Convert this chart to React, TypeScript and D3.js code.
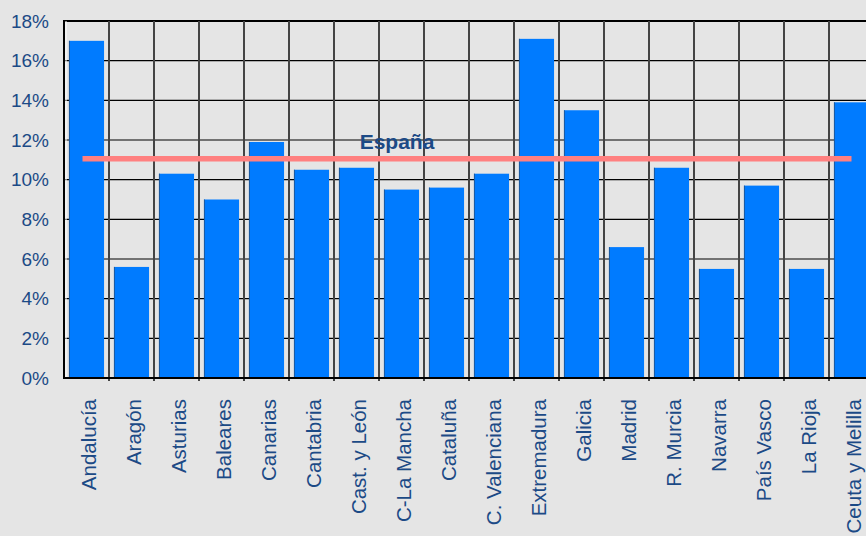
import React, { useEffect, useRef } from 'react';
import * as d3 from 'd3';

const regions = [
  'Andalucía', 'Aragón', 'Asturias', 'Baleares', 'Canarias', 'Cantabria',
  'Cast. y León', 'C-La Mancha', 'Cataluña', 'C. Valenciana', 'Extremadura',
  'Galicia', 'Madrid', 'R. Murcia', 'Navarra', 'País Vasco', 'La Rioja', 'Ceuta y Melilla',
];
const rates = [17.0, 5.6, 10.3, 9.0, 11.9, 10.5, 10.6, 9.5, 9.6, 10.3, 17.1, 13.5, 6.6, 10.6, 5.5, 9.7, 5.5, 13.9];
const spainRate = 11.05;
const spainLabel = 'España';
const yTicks = [0, 2, 4, 6, 8, 10, 12, 14, 16, 18];

export default function App() {
  const svgRef = useRef<SVGSVGElement>(null);

  useEffect(() => {
    if (!svgRef.current) return;
    const svg = d3.select(svgRef.current);
    svg.selectAll('*').remove();

    const W = 866, H = 536;
    const left = 64, top = 21, bottom = 378;
    const band = 45;

    svg.append('rect').attr('width', W).attr('height', H).attr('fill', '#e5e5e5');

    const x = d3.scaleBand<string>()
      .domain(regions)
      .range([left, left + band * regions.length])
      .paddingInner(0.22)
      .paddingOuter(0.11);

    const y = d3.scaleLinear().domain([0, 18]).range([bottom, top]);

    const textColor = '#1c4a86';
    const font = 'Liberation Sans, Arial, sans-serif';

    // horizontal grid
    svg.append('g')
      .selectAll('line')
      .data(yTicks.filter(d => d > 0))
      .enter().append('line')
      .attr('x1', left).attr('x2', W)
      .attr('y1', d => y(d)).attr('y2', d => y(d))
      .attr('stroke', '#000').attr('stroke-width', d => (d === 18 ? 2 : 1.2));

    // vertical grid at band edges
    const edges = regions.map((_, i) => left + band * (i + 1));
    svg.append('g')
      .selectAll('line')
      .data(edges)
      .enter().append('line')
      .attr('x1', d => d).attr('x2', d => d)
      .attr('y1', top).attr('y2', bottom + 3)
      .attr('stroke', '#444').attr('stroke-width', 2);

    // bars
    const bars = svg.append('g');
    bars.selectAll('rect.bar')
      .data(regions)
      .enter().append('rect')
      .attr('class', 'bar')
      .attr('x', d => x(d)!)
      .attr('y', (d, i) => y(rates[i]))
      .attr('width', x.bandwidth())
      .attr('height', (d, i) => bottom - y(rates[i]))
      .attr('fill', '#007bff');
    bars.selectAll('line.edge')
      .data(regions)
      .enter().append('line')
      .attr('class', 'edge')
      .attr('x1', d => x(d)! + 0.5).attr('x2', d => x(d)! + 0.5)
      .attr('y1', (d, i) => y(rates[i])).attr('y2', bottom)
      .attr('stroke', '#1d5a9e').attr('stroke-width', 1);

    // axes lines
    svg.append('line')
      .attr('x1', left).attr('x2', left).attr('y1', top - 1).attr('y2', bottom + 1)
      .attr('stroke', '#000').attr('stroke-width', 2);
    svg.append('line')
      .attr('x1', left + 2).attr('x2', left + 2).attr('y1', top).attr('y2', bottom)
      .attr('stroke', '#fff').attr('stroke-width', 1);
    svg.append('line')
      .attr('x1', left - 1).attr('x2', W).attr('y1', bottom).attr('y2', bottom)
      .attr('stroke', '#000').attr('stroke-width', 2);

    // España line
    const cx = (d: string) => x(d)! + x.bandwidth() / 2;
    svg.append('line')
      .attr('x1', cx(regions[0]) - 4)
      .attr('x2', cx(regions[regions.length - 1]))
      .attr('y1', y(spainRate)).attr('y2', y(spainRate))
      .attr('stroke', '#ff8080').attr('stroke-width', 5.5);
    svg.append('text')
      .attr('x', 397).attr('y', y(spainRate) - 10)
      .attr('text-anchor', 'middle')
      .attr('font-family', font)
      .attr('font-weight', 700)
      .attr('font-size', 21)
      .attr('fill', textColor)
      .text(spainLabel);

    // y tick labels
    svg.append('g')
      .selectAll('text')
      .data(yTicks)
      .enter().append('text')
      .attr('x', 49)
      .attr('y', d => y(d))
      .attr('dy', '0.35em')
      .attr('text-anchor', 'end')
      .attr('font-family', font)
      .attr('font-size', 19)
      .attr('fill', textColor)
      .text(d => `${d}%`);

    // category labels
    svg.append('g')
      .selectAll('text')
      .data(regions)
      .enter().append('text')
      .attr('transform', d => `translate(${cx(d) + 2},${399}) rotate(-90)`)
      .attr('dy', '0.35em')
      .attr('text-anchor', 'end')
      .attr('font-family', font)
      .attr('font-size', 20.5)
      .attr('fill', textColor)
      .text(d => d);
  }, []);

  return (
    <div style={{ width: 866, height: 536, overflow: 'hidden' }}>
      <style>{`body{margin:0}`}</style>
      <svg ref={svgRef} width={866} height={536} style={{ display: 'block' }}></svg>
    </div>
  );
}
